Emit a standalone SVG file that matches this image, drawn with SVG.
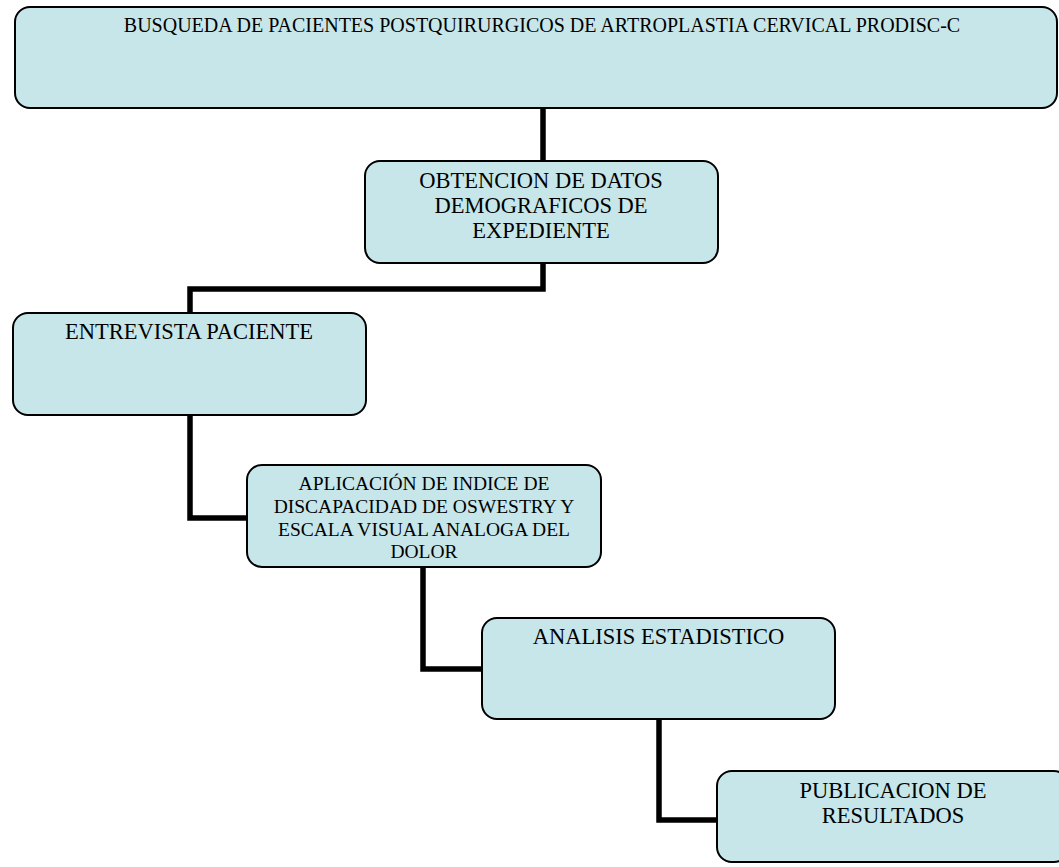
<svg xmlns="http://www.w3.org/2000/svg" width="1059" height="867" viewBox="0 0 1059 867">
<style>
.box{fill:#C6E6EA;stroke:#000;stroke-width:2}
.t{font-family:"Liberation Serif","Times New Roman",serif;fill:#000;text-anchor:middle}
.c{fill:none;stroke:#000;stroke-width:5.5;stroke-linejoin:miter}
</style>
<rect width="1059" height="867" fill="#fff"/>
<g id="connectors">
<polyline class="c" points="543,108 543,161"/>
<polyline class="c" points="543,263 543,289 190,289 190,313"/>
<polyline class="c" points="190,415 190,518 247,518"/>
<polyline class="c" points="423,567 423,669 482,669"/>
<polyline class="c" points="659,719 659,820 717,820"/>
</g>
<g id="n1">
<rect class="box" x="15" y="7" width="1042" height="101" rx="15"/>
<text class="t" x="542" y="32" font-size="20">BUSQUEDA DE PACIENTES POSTQUIRURGICOS DE ARTROPLASTIA CERVICAL PRODISC-C</text>
</g>
<g id="n2">
<rect class="box" x="365" y="161" width="353" height="102" rx="15"/>
<text class="t" x="541" font-size="22.5"><tspan x="541" y="188">OBTENCION DE DATOS</tspan><tspan x="541" y="213">DEMOGRAFICOS DE</tspan><tspan x="541" y="238">EXPEDIENTE</tspan></text>
</g>
<g id="n3">
<rect class="box" x="13" y="313" width="353" height="102" rx="15"/>
<text class="t" x="189" y="339" font-size="22.5">ENTREVISTA PACIENTE</text>
</g>
<g id="n4">
<rect class="box" x="247" y="465" width="354" height="102" rx="15"/>
<text class="t" font-size="19.5"><tspan x="424" y="490">APLICACIÓN DE INDICE DE</tspan><tspan x="424" y="513">DISCAPACIDAD DE OSWESTRY Y</tspan><tspan x="424" y="536">ESCALA VISUAL ANALOGA DEL</tspan><tspan x="424" y="558">DOLOR</tspan></text>
</g>
<g id="n5">
<rect class="box" x="482" y="618" width="353" height="101" rx="15"/>
<text class="t" x="658.5" y="644" font-size="22.5">ANALISIS ESTADISTICO</text>
</g>
<g id="n6">
<rect class="box" x="717" y="771" width="352" height="91" rx="15"/>
<text class="t" font-size="22.5"><tspan x="893" y="798">PUBLICACION DE</tspan><tspan x="893" y="823">RESULTADOS</tspan></text>
</g>
</svg>
